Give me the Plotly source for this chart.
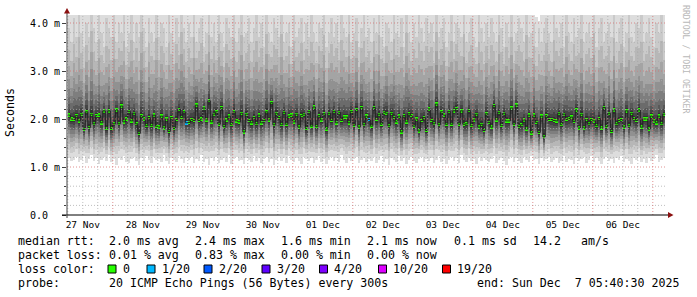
import plotly.graph_objects as go
from datetime import datetime, timedelta

# ---------------- data ----------------
END_TIME = datetime(2025, 12, 7, 5, 40, 30)
START_TIME = END_TIME - timedelta(days=10)
FIRST_BUCKET = datetime(2025, 11, 27, 6, 0, 0)   # hourly consolidated buckets

# median RTT per hourly bucket (ms)
median_ms = [
    2.08, 2.00, 1.99, 2.07, 1.96, 2.10, 1.78, 2.15, 1.82, 2.10, 1.90, 2.07, 2.08, 1.92, 2.17, 1.80,
    2.17, 1.80, 1.90, 2.19, 1.90, 2.27, 1.94, 2.00, 2.16, 1.96, 2.12, 1.90, 1.70, 2.07, 2.00, 1.86,
    2.03, 1.86, 2.08, 1.85, 1.83, 2.06, 1.81, 2.00, 1.74, 2.03, 1.80, 1.99, 2.20, 2.03, 2.15, 1.92,
    1.93, 1.99, 1.97, 2.29, 1.97, 2.00, 2.23, 1.98, 2.38, 1.94, 2.10, 2.15, 1.89, 2.24, 1.84, 1.98,
    2.06, 1.88, 2.15, 1.96, 1.94, 2.12, 1.73, 2.10, 1.97, 1.92, 2.03, 1.90, 2.08, 1.92, 1.97, 2.15,
    1.98, 2.34, 1.88, 2.12, 2.03, 1.88, 2.14, 1.89, 2.06, 2.08, 1.94, 2.10, 1.83, 2.07, 2.10, 1.80,
    2.16, 1.85, 2.25, 1.84, 2.07, 1.98, 2.11, 1.79, 2.12, 1.97, 2.16, 1.92, 2.14, 1.97, 2.04, 2.04,
    1.92, 2.16, 1.87, 2.20, 1.83, 2.24, 1.88, 2.06, 1.99, 1.85, 2.24, 1.99, 2.10, 1.89, 2.14, 2.12,
    1.86, 2.12, 2.03, 1.94, 2.06, 1.73, 2.07, 1.94, 2.11, 2.07, 1.85, 2.00, 1.75, 1.97, 2.03, 1.76,
    2.21, 1.97, 1.90, 2.31, 1.88, 2.15, 2.08, 1.89, 2.16, 1.89, 2.17, 2.22, 1.89, 2.17, 1.89, 1.90,
    2.18, 1.86, 1.98, 2.10, 1.83, 1.89, 1.76, 2.11, 1.93, 1.83, 2.28, 1.98, 2.14, 1.86, 2.12, 1.96,
    1.96, 2.23, 1.89, 2.29, 1.84, 1.88, 1.98, 1.79, 2.08, 1.71, 2.08, 1.93, 1.72, 2.06, 1.63, 2.07,
    1.99, 1.99, 1.97, 1.96, 2.12, 1.88, 2.10, 1.99, 2.01, 2.04, 1.95, 2.19, 1.81, 2.10, 1.81, 1.99,
    1.90, 1.99, 1.96, 1.86, 2.01, 1.81, 2.24, 1.84, 2.12, 1.74, 2.19, 1.90, 1.97, 1.99, 1.83, 2.17,
    1.86, 2.12, 2.01, 1.97, 2.19, 1.83, 2.00, 2.00, 1.79, 2.06, 1.96, 1.92, 2.06, 1.90, 2.10,
]

# lost pings (out of 20) per bucket index; all other buckets had no loss
loss_events = {47: 1, 120: 1}

# lowest ping of each bucket (bottom of the smoke, ms)
smoke_min_ms = [
    1.18, 1.12, 1.15, 1.20, 1.10, 1.14, 1.22, 1.08, 1.16, 1.25, 1.12, 1.18, 1.06, 1.15, 1.20, 1.13, 1.24, 1.10, 1.17, 1.05, 1.19, 1.14, 1.22, 1.11,
    1.09, 1.16, 1.21, 1.13, 1.04, 1.18, 1.12, 1.23, 1.15, 1.08, 1.20, 1.14, 1.17, 1.10, 1.26, 1.12, 1.07, 1.19, 1.15, 1.11, 1.22, 1.16, 1.09, 1.18,
    1.14, 1.20, 1.08, 1.17, 1.12, 1.25, 1.10, 1.16, 1.05, 1.19, 1.13, 1.21, 1.09, 1.15, 1.18, 1.11, 1.24, 1.07, 1.16, 1.20, 1.12, 1.14, 1.06, 1.19,
    1.15, 1.10, 1.22, 1.13, 1.18, 1.08, 1.16, 1.21, 1.11, 1.17, 1.04, 1.14, 1.20, 1.12, 1.19, 1.09, 1.23, 1.15, 1.10, 1.18, 1.13, 1.07, 1.21, 1.16,
    1.12, 1.19, 1.09, 1.15, 1.22, 1.11, 1.17, 1.06, 1.14, 1.20, 1.13, 1.18, 1.10, 1.24, 1.15, 1.08, 1.19, 1.12, 1.16, 1.21, 1.09, 1.14, 1.18, 1.11,
    1.17, 1.13, 1.20, 1.08, 1.15, 1.22, 1.10, 1.16, 1.05, 1.19, 1.14, 1.11, 1.23, 1.12, 1.18, 1.07, 1.15, 1.20, 1.13, 1.09, 1.17, 1.21, 1.10, 1.16,
    1.13, 1.19, 1.08, 1.14, 1.22, 1.11, 1.17, 1.06, 1.15, 1.20, 1.12, 1.18, 1.09, 1.24, 1.14, 1.10, 1.19, 1.13, 1.16, 1.07, 1.21, 1.12, 1.18, 1.15,
    1.10, 1.17, 1.22, 1.09, 1.14, 1.19, 1.12, 1.05, 1.16, 1.21, 1.11, 1.18, 1.13, 1.08, 1.20, 1.15, 1.10, 1.23, 1.14, 1.17, 1.06, 1.19, 1.12, 1.16,
    1.21, 1.10, 1.15, 1.18, 1.08, 1.13, 1.22, 1.11, 1.17, 1.14, 1.06, 1.19, 1.12, 1.16, 1.20, 1.09, 1.15, 1.23, 1.11, 1.18, 1.13, 1.07, 1.17, 1.20,
    1.12, 1.16, 1.09, 1.19, 1.14, 1.22, 1.10, 1.17, 1.13, 1.06, 1.18, 1.15, 1.21, 1.11, 1.16, 1.08, 1.19, 1.13, 1.17, 1.24, 1.10, 1.15, 1.18,
]

# 2nd-highest ping of each bucket (top of the second smoke band, ms)
smoke_upper_ms = [
    3.9, 3.6, 4.1, 3.7, 4.3, 3.8, 3.5, 4.0, 3.7, 4.4, 3.9, 3.6, 4.2, 3.8, 3.5, 4.1, 3.9, 3.7, 4.3, 3.6, 4.0, 3.8, 4.2, 3.5,
    3.8, 4.2, 3.6, 4.0, 3.7, 4.4, 3.9, 3.5, 4.1, 3.8, 3.6, 4.3, 3.7, 4.0, 3.9, 3.5, 4.2, 3.8, 3.6, 4.1, 3.7, 4.4, 3.9, 3.6,
    4.0, 3.7, 4.3, 3.6, 3.9, 4.1, 3.5, 3.8, 4.2, 3.7, 4.0, 3.6, 4.4, 3.8, 3.5, 4.1, 3.9, 3.7, 4.2, 3.6, 3.9, 4.3, 3.7, 3.8,
    4.1, 3.6, 3.9, 4.2, 3.7, 4.0, 3.5, 4.3, 3.8, 3.6, 4.1, 3.9, 3.7, 4.4, 3.6, 3.8, 4.0, 3.5, 4.2, 3.7, 3.9, 4.1, 3.6, 4.0,
    3.7, 4.2, 3.8, 3.6, 4.0, 3.9, 4.3, 3.5, 3.8, 4.1, 3.7, 4.0, 3.6, 4.2, 3.9, 3.7, 4.4, 3.6, 3.8, 4.1, 3.5, 3.9, 4.2, 3.7,
    3.9, 3.6, 4.1, 3.8, 4.3, 3.7, 3.5, 4.0, 3.9, 3.6, 4.2, 3.8, 3.7, 4.1, 3.5, 4.4, 3.8, 3.6, 4.0, 3.7, 4.2, 3.9, 3.6, 4.1,
    3.8, 4.0, 3.6, 4.3, 3.7, 3.9, 4.1, 3.5, 3.8, 4.2, 3.6, 4.0, 3.9, 3.7, 4.4, 3.6, 3.8, 4.1, 3.7, 3.5, 4.2, 3.9, 3.6, 4.0,
    3.7, 4.1, 3.8, 3.6, 4.3, 3.9, 3.5, 4.0, 3.7, 4.2, 3.6, 3.8, 4.1, 3.9, 3.6, 4.4, 3.7, 3.8, 4.0, 3.5, 3.9, 3.6, 3.9, 4.1,
    3.8, 3.6, 4.2, 3.9, 3.7, 4.0, 3.5, 4.3, 3.8, 3.6, 4.1, 3.7, 3.9, 4.2, 3.6, 3.8, 4.0, 3.7, 4.4, 3.5, 3.9, 4.1, 3.6, 3.8,
    4.0, 3.7, 4.2, 3.6, 3.9, 4.1, 3.5, 3.8, 4.3, 3.7, 3.6, 4.0, 3.9, 4.2, 3.6, 3.8, 4.1, 3.7, 3.5, 4.0, 3.8, 4.2, 3.6,
]

# highest ping of each bucket (top of the lightest smoke, ms; mostly above the axis)
smoke_max_ms = [
    4.8, 5.2, 4.6, 5.0, 4.9, 5.4, 4.7, 5.1, 4.8, 5.3, 4.6, 5.0, 4.9, 5.2, 4.7, 5.5, 4.8, 5.0, 4.6, 5.1, 4.9, 5.3, 4.7, 5.0,
    5.1, 4.7, 5.3, 4.9, 4.6, 5.2, 4.8, 5.0, 4.7, 5.4, 4.9, 4.6, 5.1, 4.8, 5.3, 4.7, 5.0, 4.9, 5.2, 4.6, 5.1, 4.8, 5.0, 4.7,
    4.9, 5.3, 4.7, 5.0, 4.8, 5.2, 4.6, 5.1, 4.9, 5.4, 4.7, 5.0, 4.8, 5.2, 4.6, 5.0, 4.9, 5.3, 4.7, 5.1, 4.8, 5.0, 4.6, 5.2,
    5.0, 4.8, 5.2, 4.7, 5.1, 4.9, 5.3, 4.6, 5.0, 4.8, 5.4, 4.7, 5.1, 4.9, 5.2, 4.6, 5.0, 4.8, 5.3, 4.7, 5.1, 4.9, 5.0, 4.6,
    4.7, 5.1, 4.9, 5.3, 4.6, 5.0, 4.8, 5.2, 4.7, 5.4, 4.9, 5.0, 4.6, 5.1, 4.8, 5.3, 4.7, 5.0, 4.9, 5.2, 4.6, 5.1, 4.8, 5.0,
    5.2, 4.8, 5.0, 4.6, 5.3, 4.9, 5.1, 4.7, 5.0, 4.8, 5.4, 4.6, 5.1, 4.9, 5.2, 4.7, 5.0, 4.8, 5.3, 4.6, 5.1, 4.9, 5.0, 4.7,
    4.9, 5.2, 4.7, 5.0, 4.8, 5.3, 4.6, 5.1, 4.9, 5.0, 4.7, 5.4, 4.8, 5.1, 4.6, 5.2, 4.9, 5.0, 4.7, 5.3, 4.8, 5.1, 4.6, 5.0,
    5.0, 4.7, 5.3, 4.9, 5.1, 4.6, 5.2, 4.8, 5.0, 4.7, 5.4, 4.9, 5.1, 4.6, 5.0, 4.8, 5.2, 4.7, 5.3, 4.12, 4.05, 4.9, 5.0, 4.6,
    4.8, 5.1, 4.6, 5.3, 4.9, 5.0, 4.7, 5.2, 4.8, 5.4, 4.6, 5.1, 4.9, 5.0, 4.7, 5.3, 4.8, 5.1, 4.6, 5.2, 4.9, 5.0, 4.7, 5.3,
    5.1, 4.8, 5.0, 4.6, 5.2, 4.9, 5.3, 4.7, 5.0, 4.8, 5.1, 4.6, 5.4, 4.9, 5.0, 4.7, 5.2, 4.8, 5.1, 4.6, 5.3, 4.9, 5.0,
]

y_tick_vals = [0, 1, 2, 3, 4]
y_tick_text = ["0.0\u00a0\u00a0", "1.0 m", "2.0 m", "3.0 m", "4.0 m"]

legend_median = [("median rtt:", 16), ("2.0 ms avg", 107), ("2.4 ms max", 193), ("1.6 ms min", 279),
                 ("2.1 ms now", 365), ("0.1 ms sd", 452), ("14.2", 531), ("am/s", 579)]
legend_loss = [("packet loss:", 16), ("0.01 % avg", 107), ("0.83 % max", 193), ("0.00 % min", 279),
               ("0.00 % now", 365)]
loss_labels = ["0", "1/20", "2/20", "3/20", "4/20", "10/20", "19/20"]
loss_levels = [0, 1, 2, 3, 4, 10, 19]
loss_colors = ["#26ff00", "#00b8ff", "#0059ff", "#5e00ff", "#7e00ff", "#dd00ff", "#ff0000"]
probe_text = "20 ICMP Echo Pings (56 Bytes) every 300s"
end_text = "end: Sun Dec \u00a07 05:40:30 2025"

# ---------------- styling ----------------
W, H = 697, 297
ML, MR, MT, MB = 67, 30, 15, 82
PW, PH = W - ML - MR, H - MT - MB
Y_MAX = 200 / 48.0
MONO = "DejaVu Sans Mono"
SHADES = [221, 202, 183, 164, 145, 126, 107, 88, 69, 50]
UP_FRAC = [None, 1.0, 0.75, 0.56, 0.41, 0.30, 0.21, 0.13, 0.075, 0.035]
DN_FRAC = [1.0, 0.80, 0.66, 0.54, 0.44, 0.35, 0.27, 0.20, 0.13, 0.07]


def px_x(px):
    return (px - ML) / PW


def px_y(py):
    return (MT + PH - py) / PH


n = len(median_ms)
bucket_ms = 3600000
x_left = [FIRST_BUCKET + timedelta(hours=i) for i in range(n)]
x_mid = [t + timedelta(minutes=30) for t in x_left]

fig = go.Figure()

# smoke bands (outer/lightest first)
for k, shade in enumerate(SHADES):
    lows, highs = [], []
    for i in range(n):
        m = median_ms[i]
        lo = m - (m - smoke_min_ms[i]) * DN_FRAC[k]
        if k == 0:
            hi = smoke_max_ms[i]
        else:
            hi = m + (smoke_upper_ms[i] - m) * UP_FRAC[k]
        lows.append(lo)
        highs.append(hi - lo)
    c = "#%02x%02x%02x" % (shade, shade, shade)
    fig.add_trace(go.Bar(x=x_mid, y=highs, base=lows, width=bucket_ms,
                         marker=dict(color=c, line=dict(width=0)),
                         showlegend=False, hoverinfo="skip"))

# median step line
fig.add_trace(go.Scatter(x=x_left + [x_left[-1] + timedelta(hours=1)],
                         y=median_ms + [median_ms[-1]],
                         mode="lines", line=dict(color="#202020", width=1, shape="hv"),
                         showlegend=False, hoverinfo="skip"))

# loss-coloured median markers
level_color = dict(zip(loss_levels, loss_colors))
mk_colors = [level_color[loss_events.get(i, 0)] for i in range(n)]
mk_h = 0.07
fig.add_trace(go.Bar(x=x_mid, y=[mk_h] * n, base=[m - mk_h / 2 for m in median_ms],
                     width=bucket_ms, marker=dict(color=mk_colors, line=dict(width=0)),
                     showlegend=False, hoverinfo="skip"))

shapes = []
MAJ = "rgba(215,110,110,0.75)"
MIN = "rgba(170,170,170,0.75)"
DASH = "1px,2px"
# horizontal grid
for j in range(1, 21):
    v = j * 0.2
    if v > Y_MAX:
        break
    major = j % 5 == 0
    shapes.append(dict(type="line", xref="paper", yref="y", x0=0, x1=1, y0=v, y1=v,
                       line=dict(color=MAJ if major else MIN, width=1, dash=DASH), layer="above"))
# vertical grid every 6 hours
t = datetime(2025, 11, 27, 6, 0, 0)
while t < END_TIME:
    major = t.hour == 0
    shapes.append(dict(type="line", xref="x", yref="paper", x0=t, x1=t, y0=0, y1=1,
                       line=dict(color=MAJ if major else MIN, width=1, dash=DASH), layer="above"))
    t += timedelta(hours=6)

# axis lines and arrows
shapes.append(dict(type="line", xref="paper", yref="paper", x0=px_x(62), x1=px_x(668), y0=0, y1=0,
                   line=dict(color="#000000", width=1), layer="above"))
shapes.append(dict(type="line", xref="paper", yref="paper", x0=0, x1=0, y0=px_y(218), y1=px_y(12),
                   line=dict(color="#404040", width=1), layer="above"))
shapes.append(dict(type="path", xref="paper", yref="paper",
                   path="M %f,%f L %f,%f L %f,%f Z" % (px_x(64), px_y(13.5), px_x(70), px_y(13.5), px_x(67), px_y(8)),
                   fillcolor="#8b1010", line=dict(width=0), layer="above"))
shapes.append(dict(type="path", xref="paper", yref="paper",
                   path="M %f,%f L %f,%f L %f,%f Z" % (px_x(668), px_y(212), px_x(668), px_y(218), px_x(673.5), px_y(215)),
                   fillcolor="#8b1010", line=dict(width=0), layer="above"))

annotations = []
FS = 11.6
rows_y = [241, 255.3, 269.3, 283.3]
for txt, xp in legend_median:
    annotations.append(dict(text=txt.replace(" ", "\u00a0"), x=px_x(xp), y=px_y(rows_y[0]), xref="paper", yref="paper",
                            xanchor="left", yanchor="middle", showarrow=False, font=dict(family=MONO, size=FS, color="#000")))
for txt, xp in legend_loss:
    annotations.append(dict(text=txt.replace(" ", "\u00a0"), x=px_x(xp), y=px_y(rows_y[1]), xref="paper", yref="paper",
                            xanchor="left", yanchor="middle", showarrow=False, font=dict(family=MONO, size=FS, color="#000")))
annotations.append(dict(text="loss\u00a0color:", x=px_x(16), y=px_y(rows_y[2]), xref="paper", yref="paper",
                        xanchor="left", yanchor="middle", showarrow=False, font=dict(family=MONO, size=FS, color="#000")))
box_x = [108, 147, 204, 262, 319.5, 378.5, 442.5]
for lbl, col, bx in zip(loss_labels, loss_colors, box_x):
    shapes.append(dict(type="rect", xref="paper", yref="paper", x0=px_x(bx), x1=px_x(bx + 8),
                       y0=px_y(273), y1=px_y(265), fillcolor=col, line=dict(color="#000", width=1)))
    annotations.append(dict(text=lbl, x=px_x(bx + 12.5), y=px_y(rows_y[2]), xref="paper", yref="paper",
                            xanchor="left", yanchor="middle", showarrow=False, font=dict(family=MONO, size=FS, color="#000")))
annotations.append(dict(text="probe:", x=px_x(16), y=px_y(rows_y[3]), xref="paper", yref="paper",
                        xanchor="left", yanchor="middle", showarrow=False, font=dict(family=MONO, size=FS, color="#000")))
annotations.append(dict(text=probe_text.replace(" ", "\u00a0"), x=px_x(107), y=px_y(rows_y[3]), xref="paper", yref="paper",
                        xanchor="left", yanchor="middle", showarrow=False, font=dict(family=MONO, size=FS, color="#000")))
annotations.append(dict(text=end_text.replace(" ", "\u00a0"), x=px_x(681), y=px_y(rows_y[3]), xref="paper", yref="paper",
                        xanchor="right", yanchor="middle", showarrow=False, font=dict(family=MONO, size=FS, color="#000")))
# y title
annotations.append(dict(text="Seconds", x=px_x(10), y=px_y(113), xref="paper", yref="paper",
                        xanchor="center", yanchor="middle", textangle=-90, showarrow=False,
                        font=dict(family=MONO, size=11.6, color="#000")))
# watermark
annotations.append(dict(text="RRDTOOL\u00a0/\u00a0TOBI\u00a0OETIKER", x=px_x(686), y=px_y(59), xref="paper", yref="paper",
                        xanchor="center", yanchor="middle", textangle=90, showarrow=False,
                        font=dict(family=MONO, size=8.2, color="#b8b8b8")))

fig.update_layout(
    width=W, height=H, autosize=False,
    margin=dict(l=ML, r=MR, t=MT, b=MB, pad=0),
    paper_bgcolor="#ffffff", plot_bgcolor="#ffffff",
    barmode="overlay", bargap=0, showlegend=False,
    shapes=shapes, annotations=annotations,
    xaxis=dict(type="date", range=[START_TIME, END_TIME], showgrid=False, zeroline=False, showline=False,
               tickmode="linear", tick0="2025-11-27", dtick=86400000, ticklabelmode="period",
               tickformat="%d %b", ticks="", ticklabelstandoff=2,
               tickfont=dict(family=MONO, size=9.5, color="#000")),
    yaxis=dict(range=[0, Y_MAX], showgrid=False, zeroline=False, showline=False,
               tickmode="array", tickvals=y_tick_vals, ticktext=y_tick_text,
               ticks="outside", ticklen=4, tickcolor="#404040", tickwidth=1,
               minor=dict(dtick=0.2, ticks="outside", ticklen=2, tickcolor="#404040", showgrid=False),
               tickfont=dict(family=MONO, size=10, color="#000")),
)

fig.write_html("out.html")
